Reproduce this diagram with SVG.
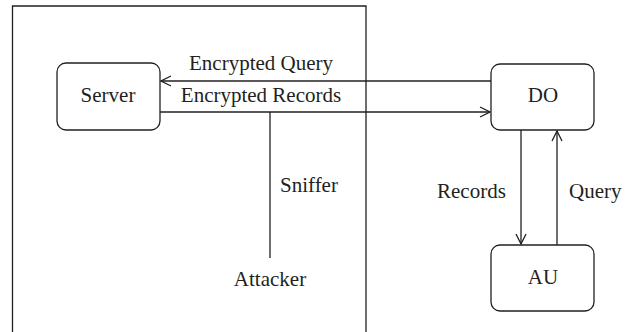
<svg xmlns="http://www.w3.org/2000/svg" width="636" height="332" viewBox="0 0 636 332">
  <style>
    .ln { fill: none; stroke: #231f20; stroke-width: 1.3; }
    .box { fill: #ffffff; stroke: #231f20; stroke-width: 1.3; }
    .lbl { font-family: "Liberation Serif", "Times New Roman", serif; font-size: 21px; fill: #231f20; }
    .mid { text-anchor: middle; }
  </style>
  <defs>
    <marker id="open" viewBox="0 0 12 12" refX="11" refY="6" markerWidth="12" markerHeight="12" markerUnits="userSpaceOnUse" orient="auto">
      <path d="M1,1 L11,6 L1,11" fill="none" stroke="#231f20" stroke-width="1.3"/>
    </marker>
  </defs>

  <!-- enclosure around server and attacker (open at the bottom) -->
  <path class="ln" d="M12.5,332 V6 H366 V332"/>

  <g id="connectors">
    <!-- DO -> Server: encrypted query -->
    <line class="ln" x1="491" y1="81" x2="161" y2="81" marker-end="url(#open)"/>
    <text class="lbl mid" x="261" y="70">Encrypted Query</text>
    <!-- Server -> DO: encrypted records -->
    <line class="ln" x1="160" y1="112" x2="490" y2="112" marker-end="url(#open)"/>
    <text class="lbl mid" x="261" y="102">Encrypted Records</text>
    <!-- sniffer tap -->
    <line class="ln" x1="270" y1="112" x2="270" y2="258"/>
    <text class="lbl" x="280" y="192">Sniffer</text>
    <!-- DO -> AU: records -->
    <line class="ln" x1="521" y1="130" x2="521" y2="244" marker-end="url(#open)"/>
    <text class="lbl" x="437" y="198">Records</text>
    <!-- AU -> DO: query -->
    <line class="ln" x1="557" y1="245" x2="557" y2="131" marker-end="url(#open)"/>
    <text class="lbl" x="569" y="198">Query</text>
  </g>

  <g id="server">
    <rect class="box" x="57" y="63" width="103" height="67" rx="9"/>
    <text class="lbl mid" x="108" y="102">Server</text>
  </g>

  <g id="do">
    <rect class="box" x="491" y="64" width="103" height="66" rx="9"/>
    <text class="lbl mid" x="543" y="102">DO</text>
  </g>

  <g id="au">
    <rect class="box" x="491" y="245" width="103" height="66" rx="9"/>
    <text class="lbl mid" x="543" y="284">AU</text>
  </g>

  <g id="attacker">
    <text class="lbl mid" x="270" y="286">Attacker</text>
  </g>
</svg>
